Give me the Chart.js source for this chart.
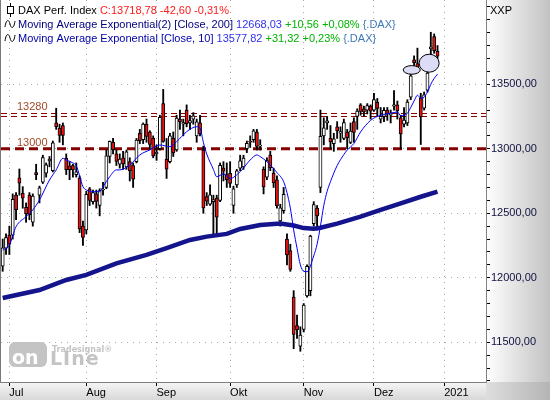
<!DOCTYPE html>
<html><head><meta charset="utf-8">
<script src="https://cdn.jsdelivr.net/npm/chart.js@4/dist/chart.umd.min.js"></script>
<style>html,body{margin:0;padding:0;background:#fff;}#wrap{width:550px;height:400px;}</style>
</head><body><div id="wrap"><canvas id="c" width="550" height="400"></canvas></div>
<script>
// ---- categories (trading days) ----
const dJun=[29,30];
const dJul=[1,2,3,6,7,8,9,10,13,14,15,16,17,20,21,22,23,24,27,28,29,30,31];
const dAug=[3,4,5,6,7,10,11,12,13,14,17,18,19,20,21,24,25,26,27,28,31];
const dSep=[1,2,3,4,7,8,9,10,11,14,15,16,17,18,21,22,23,24,25,28,29,30];
const dOkt=[1,2,5,6,7,8,9,12,13,14,15,16,19,20,21,22,23,26,27,28,29,30];
const dNov=[2,3,4,5,6,9,10,11,12,13,16,17,18,19,20,23,24,25,26,27,30];
const dDez=[1,2,3,4,7,8,9,10,11,14,15,16,17,18,21,22,23,28,29,30,31];
const dJan=[4,5,6,7,8,11,12,13,14,15,18,19,20];
const monthNames=['Jul','Aug','Sep','Okt','Nov','Dez','2021'];
const yTickValues=[11500,12000,12500,13000,13500];

// ---- OHLC ----
const opens=[12090,12230,12330,12330,12640,12775,12655,12545,12640,12430,12815,12640,12740,12810,12905,12830,13200,13160,13180,12926,12867,12870,12800,12773,12400,
12370,12690,12590,12650,12560,12680,12700,12940,13050,12960,12880,12930,12860,12900,12870,12900,13120,13070,13190,13130,13080,
12960,13000,13350,12920,12900,13080,12990,13230,13190,13300,13200,13230,13100,13200,12990,12630,12570,12590,12617,12600,12850,12800,
12810,12560,12720,12850,12860,13000,13060,13070,13130,13020,12840,12780,12950,12810,12760,12440,12520,12300,12210,11850,11630,11470,
11600,11860,11900,12420,12540,12700,13100,13200,13080,13040,13170,13120,13080,13130,13050,13210,13250,13340,13310,13300,13330,
13300,13360,13230,13250,13300,13260,13330,13340,13240,13190,13200,13400,13690,13660,13395,13315,13455,13775,13870,13755];
const highs=[12300,12340,12400,12650,12660,12843,12706,12580,12660,12650,12880,12710,12950,12890,12940,13060,13314,13190,13200,12960,12900,12880,12890,12790,12440,
12670,12700,12680,12680,12690,12740,12990,13060,13080,12990,12960,12980,12990,12930,12890,13080,13150,13200,13230,13140,13100,
13030,13260,13460,13080,13120,13130,13260,13300,13230,13340,13260,13280,13230,13260,13020,12660,12720,12640,12640,12890,12900,12890,
12900,12710,12840,12950,12950,13060,13100,13150,13150,13070,12860,12930,12980,12850,12790,12570,12700,12340,12260,11900,11710,11620,
11800,12100,12330,12590,12560,13300,13240,13250,13180,13120,13210,13170,13230,13150,13200,13240,13310,13350,13330,13350,13340,
13430,13390,13320,13320,13320,13300,13450,13370,13260,13320,13380,13580,13720,13780,13430,13440,13600,13903,13890,13800];
const lows=[12050,12180,12180,12300,12450,12640,12539,12430,12450,12400,12760,12580,12730,12780,12860,12820,13150,13050,13030,12800,12760,12780,12780,12350,12250,
12340,12560,12570,12540,12480,12640,12690,12890,12960,12870,12850,12840,12840,12750,12700,12890,13040,13040,13050,13000,12930,
12910,12990,13050,12770,12890,12940,12980,13150,13100,13170,13150,13190,13050,13100,12500,12560,12560,12340,12340,12590,12750,12700,
12700,12500,12700,12830,12840,12970,13010,13050,12990,12990,12650,12760,12830,12700,12540,12400,12500,12100,12050,11450,11530,11430,
11580,11850,11860,12400,12370,12660,13030,13150,13000,12980,13080,13050,13070,13000,13040,13050,13150,13260,13250,13270,13230,
13290,13250,13200,13210,13220,13200,13300,13230,13000,13170,13180,13380,13630,13620,13033,13300,13440,13730,13740,13700];
const closes=[12232,12311,12260,12608,12528,12733,12617,12495,12489,12633,12800,12697,12931,12875,12920,13046,13171,13104,13103,12838,12838,12835,12822,12379,12313,
12647,12600,12660,12592,12675,12688,12946,13058,12993,12901,12920,12882,12977,12830,12765,13067,13062,13191,13096,13033,12945,
12974,13243,13057,12842,13100,12968,13237,13209,13202,13194,13218,13255,13208,13116,12542,12594,12643,12606,12469,12871,12826,12761,
12731,12689,12828,12906,12928,13042,13051,13138,13019,13029,12704,12909,12854,12736,12558,12543,12646,12178,12064,11561,11598,11556,
11789,12089,12324,12568,12480,13096,13163,13216,13052,13077,13139,13133,13202,13086,13137,13126,13292,13289,13286,13335,13291,
13382,13313,13252,13298,13271,13278,13340,13296,13114,13223,13362,13565,13667,13630,13246,13418,13587,13790,13761,13718];

// ---- indicator readings (bar index -> value) ----
const ema200Idx=[0,11,19,25,34,43,49,56,61,67,71,77,83,87,90,93,95,100,107,113,119,125,130];
const ema200Val=[11843,11905,11983,12022,12112,12177,12229,12293,12319,12340,12378,12409,12420,12405,12385,12380,12388,12420,12474,12526,12577,12628,12668];
const ema10Idx=[0,2,4,7,9,11,14,16,18,19,21,22,23,24,25,27,29,30,32,34,35,38,41,44,47,50,52,55,58,59,60,61,63,64,66,68,71,74,76,77,79,82,84,85,86,87,88,89,90,91,93,94,95,96,97,98,100,101,103,105,107,110,113,116,118,119,121,122,123,124,125,126,127,128,129,130];
const ema10Val=[12214,12254,12396,12474,12526,12603,12758,12836,12926,12913,12890,12870,12790,12706,12681,12667,12667,12706,12783,12836,12836,12874,12952,12991,13029,13016,13055,13132,13171,13160,13050,12960,12840,12783,12805,12770,12822,12913,12952,12939,12900,12815,12745,12660,12540,12370,12230,12100,12050,12047,12170,12260,12400,12560,12670,12745,12870,12915,12990,13040,13130,13220,13260,13275,13285,13257,13275,13320,13370,13415,13392,13400,13440,13500,13545,13578];

// ---- levels, notes, legend texts ----
const levels=[13280,13000];
const levelLabels=['13280','13000'];
const notes=[{i:122.3,v:13611,rx:8.5,ry:4.3},{i:127.5,v:13663,rx:10,ry:9}];
const legendLines=[
  [['DAX Perf. Index ','#000000'],['C:13718,78 -42,60 -0,31%','#ff1a1a']],
  [['Moving Average Exponential(2) [Close, 200] ','#000080'],['12668,03 ','#3030ee'],['+10,56 +0,08% ','#00b400'],['{.DAX}','#3c78b4']],
  [['Moving Average Exponential [Close, 10] ','#0000a8'],['13577,82 ','#3030ee'],['+31,32 +0,23% ','#00b400'],['{.DAX}','#3c78b4']]
];

// ---- build labels ----
const groups=[['06',dJun],['07',dJul],['08',dAug],['09',dSep],['10',dOkt],['11',dNov],['12',dDez],['01',dJan]];
const labels=[], monthAt={};
groups.forEach((g,gi)=>{ g[1].forEach((d,k)=>{ if(k===0&&gi>0) monthAt[labels.length]=monthNames[gi-1]; labels.push(d+'.'+g[0]); }); });
const N=labels.length;
function fullSeries(idx,val){ const a=new Array(N).fill(null); idx.forEach((ix,k)=>a[ix]=val[k]); return a; }
const wickData=highs.map((h,i)=>[lows[i],h]);
const bodyData=opens.map((o,i)=>[o,closes[i]]);
const bodyColors=opens.map((o,i)=>closes[i]>=o?'#ffffff':'#ee1111');

Chart.defaults.font.family="'Liberation Sans', Arial, sans-serif";
Chart.defaults.font.size=11;

const bgPlugin={id:'bg',
  beforeDraw(chart){
    const ctx=chart.ctx,a=chart.chartArea,W=chart.width,H=chart.height;
    ctx.save();
    ctx.fillStyle='#fff';ctx.fillRect(0,0,W,H);
    let g=ctx.createLinearGradient(a.right,0,W,0);
    g.addColorStop(0,'#ffffff');g.addColorStop(1,'#c2c2c2');
    ctx.fillStyle=g;ctx.fillRect(a.right,0,W-a.right,a.bottom);
    g=ctx.createLinearGradient(0,a.bottom,0,H);
    g.addColorStop(0,'#f6f6f6');g.addColorStop(1,'#d8d8d8');
    ctx.fillStyle=g;ctx.fillRect(0,a.bottom,a.right,H-a.bottom);
    g=ctx.createLinearGradient(a.right,0,W,0);
    g.addColorStop(0,'#dedede');g.addColorStop(1,'#b4b4b4');
    ctx.fillStyle=g;ctx.fillRect(a.right,a.bottom,W-a.right,H-a.bottom);
    ctx.restore();
  },
  beforeDatasetsDraw(chart){
    const ctx=chart.ctx,a=chart.chartArea,y=chart.scales.y;
    ctx.save();
    // logo watermark
    ctx.fillStyle='#c4c4c4';
    ctx.beginPath();ctx.roundRect(9,342,38,25,6);ctx.fill();
    ctx.font="bold 19px 'DejaVu Sans'";ctx.textBaseline='alphabetic';
    ctx.fillStyle='#ffffff';ctx.fillText('on',12,364);
    ctx.fillStyle='#c4c4c4';ctx.letterSpacing='1px';ctx.fillText('LIne',50,365);
    ctx.letterSpacing='0px';
    ctx.font="bold 8px 'DejaVu Sans'";ctx.fillText('Tradesignal®',52,352);
    // level lines
    let py=Math.round(y.getPixelForValue(levels[0]))+0.5;
    ctx.strokeStyle='#8b0000';ctx.lineWidth=1;ctx.setLineDash([6,4]);
    [py,py+3].forEach(yy=>{ctx.beginPath();ctx.moveTo(a.left,yy);ctx.lineTo(a.right,yy);ctx.stroke();});
    const p0=y.getPixelForValue(levels[1]);
    ctx.strokeStyle='#850000';ctx.lineWidth=3;ctx.setLineDash([9,5]);
    ctx.beginPath();ctx.moveTo(a.left,p0);ctx.lineTo(a.right,p0);ctx.stroke();
    ctx.setLineDash([]);
    ctx.font="11px 'Liberation Sans'";
    levels.forEach((lv,k)=>{
      const yy=y.getPixelForValue(lv)-3;
      ctx.lineWidth=2;ctx.strokeStyle='rgba(255,255,255,0.9)';ctx.strokeText(levelLabels[k],17,yy);
      ctx.fillStyle='#a04a28';ctx.fillText(levelLabels[k],17,yy);
    });
    ctx.restore();
  },
  afterDraw(chart){
    const ctx=chart.ctx,a=chart.chartArea,x=chart.scales.x,y=chart.scales.y;
    ctx.save();
    // notes (ellipses)
    notes.forEach(n=>{
      const cx=x.getPixelForValue(n.i),cy=y.getPixelForValue(n.v);
      ctx.beginPath();ctx.ellipse(cx,cy,n.rx,n.ry,0,0,Math.PI*2);
      ctx.fillStyle='#dcdcf6';ctx.fill();ctx.lineWidth=1;ctx.strokeStyle='#000';ctx.stroke();
    });
    // borders
    ctx.strokeStyle='#7a7a7a';ctx.lineWidth=1;
    ctx.beginPath();ctx.moveTo(0.5,0);ctx.lineTo(0.5,a.bottom);ctx.stroke();
    ctx.strokeStyle='#808080';
    ctx.beginPath();ctx.moveTo(a.right+0.5,0);ctx.lineTo(a.right+0.5,a.bottom+0.5);ctx.lineTo(0,a.bottom+0.5);ctx.stroke();
    // axis caption
    ctx.fillStyle='#000';ctx.font="11px 'Liberation Sans'";ctx.textBaseline='alphabetic';
    ctx.fillText('XXP',490,14);
    // legend
    const bases=[14,28,42];
    legendLines.forEach((line,li)=>{
      let xx=18;
      line.forEach(seg=>{ctx.fillStyle=seg[1];ctx.fillText(seg[0],xx,bases[li]);xx+=ctx.measureText(seg[0]).width;});
    });
    // icons
    ctx.strokeStyle='#000';ctx.lineWidth=1;
    ctx.beginPath();ctx.moveTo(10.5,3);ctx.lineTo(10.5,17);ctx.stroke();
    ctx.fillStyle='#fff';ctx.fillRect(7.5,6.5,6,7);ctx.strokeRect(7.5,6.5,6,7);
    [24,38].forEach(cy=>{
      ctx.beginPath();ctx.moveTo(5,cy+3);
      ctx.bezierCurveTo(6,cy-5,9,cy-5,10,cy);
      ctx.bezierCurveTo(11,cy+5,14,cy+5,15,cy-3);
      ctx.stroke();
    });
    ctx.restore();
  }
};

new Chart(document.getElementById('c'),{
  data:{labels:labels,datasets:[
    {type:'bar',data:wickData,backgroundColor:'#000',borderWidth:0,barThickness:1.2,grouped:false,order:3},
    {type:'bar',data:bodyData,backgroundColor:bodyColors,borderColor:'#000',borderWidth:1,borderSkipped:false,barThickness:3.2,grouped:false,minBarLength:1,order:2},
    {type:'line',data:fullSeries(ema200Idx,ema200Val),borderColor:'#14148c',borderWidth:4.5,pointRadius:0,spanGaps:true,tension:0,order:1},
    {type:'line',data:fullSeries(ema10Idx,ema10Val),borderColor:'#0000ff',borderWidth:1,pointRadius:0,spanGaps:true,cubicInterpolationMode:'monotone',order:0}
  ]},
  options:{
    responsive:false,animation:false,
    layout:{padding:{left:1,top:0,right:0,bottom:0}},
    plugins:{legend:{display:false},tooltip:{enabled:false}},
    scales:{
      x:{type:'category',offset:true,
        grid:{offset:false,color:'#a4a4a4',lineWidth:1,drawTicks:true,tickLength:4,tickColor:'#000',tickWidth:1},
        border:{display:false,dash:[1,5]},
        ticks:{autoSkip:false,maxRotation:0,minRotation:0,align:'start',padding:0,color:'#000',font:{size:11},
          callback:(v,i)=>monthAt[i]!==undefined?monthAt[i]:null},
        afterFit(s){s.height=18;s.paddingLeft=0;s.paddingRight=0;}
      },
      y:{position:'right',min:11192,max:14153,
        ticks:{stepSize:100,includeBounds:false,autoSkip:false,padding:1,color:'#101040',font:{size:11},
          callback:(v)=>{const r=Math.round(v);if(r%100!==0)return null;return yTickValues.includes(r)?(r+',00'):'';}},
        grid:{color:(c)=>(c.tick&&yTickValues.includes(Math.round(c.tick.value)))?'#98b898':'rgba(0,0,0,0)',drawTicks:true,tickLength:4,tickColor:'#000',tickWidth:1},
        border:{display:false,dash:[1,5]},
        afterFit(s){s.width=64;s.paddingTop=0;s.paddingBottom=0;}
      }
    }
  },
  plugins:[bgPlugin]
});
</script></body></html>
